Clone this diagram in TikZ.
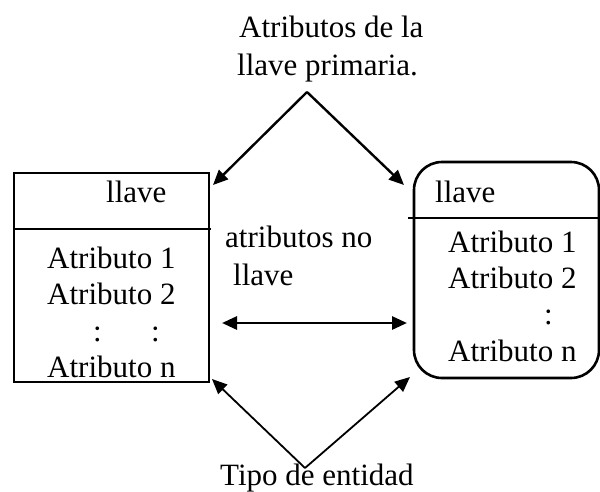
\documentclass[tikz,border=0pt]{standalone}
\usepackage{fontspec}
\setmainfont{Liberation Serif}
\usetikzlibrary{arrows.meta}
\begin{document}
\begin{tikzpicture}[x=1pt,y=-1pt,
  lbl/.style={anchor=base west,inner sep=0pt,font=\fontsize{31}{36}\selectfont},
  boxline/.style={draw,line width=2.6pt},
  divline/.style={line width=2.6pt},
  arr/.style={line width=2.4pt,-{Triangle[length=15pt,width=13pt]}},
  thinarr/.style={line width=1.8pt,-{Triangle[length=15pt,width=13pt]}},
  dblarr/.style={line width=2.8pt,{Triangle[length=15pt,width=13pt]}-{Triangle[length=15pt,width=13pt]}}]
\useasboundingbox (0,0) rectangle (600,491);
% boxes
\node[boxline,rectangle,minimum width=195pt,minimum height=209pt,inner sep=0pt] (lbox) at (111.5,277.5) {};
\node[boxline,rectangle,rounded corners=28pt,minimum width=185pt,minimum height=216pt,inner sep=0pt] (rbox) at (506.5,270) {};
\coordinate (ldivA) at (14,229);
\coordinate (ldivB) at (211,229);
\coordinate (rdivA) at (408,218);
\coordinate (rdivB) at (599,218);
\draw[divline] (ldivA) -- (ldivB);
\draw[divline] (rdivA) -- (rdivB);
% texts
\node[lbl] (t1) at (239,37) {Atributos de la};
\node[lbl] (t2) at (237,75) {llave primaria.};
\node[lbl] (lk) at (106,202) {llave};
\node[lbl] (la1) at (47,268) {Atributo 1};
\node[lbl] (la2) at (47,304) {Atributo 2};
\node[lbl] (lc1) at (93,341) {:};
\node[lbl] (lc2) at (151,341) {:};
\node[lbl] (lan) at (47,377) {Atributo n};
\node[lbl] (rk) at (435,202) {llave};
\node[lbl] (ra1) at (448,252) {Atributo 1};
\node[lbl] (ra2) at (448,288) {Atributo 2};
\node[lbl] (rc) at (544,324) {:};
\node[lbl] (ran) at (448,361) {Atributo n};
\node[lbl] (m1) at (225,247) {atributos no};
\node[lbl] (m2) at (233,285) {llave};
\node[lbl] (tb) at (220,485) {Tipo de entidad};
% arrows
\coordinate (apex) at (307,92);
\coordinate (tipL) at (213,185);
\coordinate (tipR) at (404,185);
\draw[arr] (apex) -- (tipL);
\draw[arr] (apex) -- (tipR);
\coordinate (dA) at (222,323);
\coordinate (dB) at (407,323);
\draw[dblarr] (dA) -- (dB);
\coordinate (bapex) at (305,468);
\coordinate (btipL) at (212,379);
\coordinate (btipR) at (410,377);
\draw[thinarr] (bapex) -- (btipL);
\draw[thinarr] (bapex) -- (btipR);
\end{tikzpicture}
\end{document}
